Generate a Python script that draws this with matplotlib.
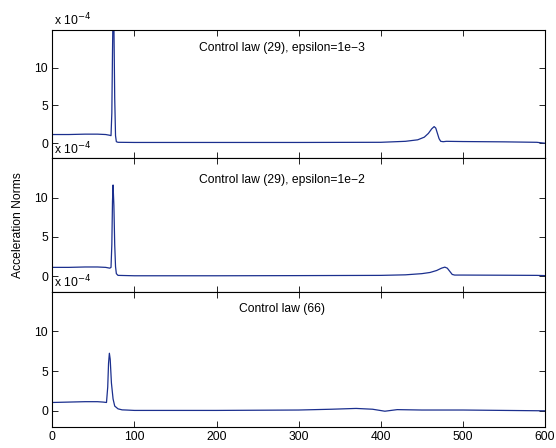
import matplotlib.pyplot as plt
import numpy as np

plt.rcParams['font.family'] = ['Liberation Sans', 'DejaVu Sans']

# time samples and acceleration norms (units of 1e-4)
t_top = [0, 20, 40, 55, 65, 70, 71.5, 72.5, 73.3, 74, 75, 76, 77, 78, 80, 100, 200,
         300, 400, 430, 445, 453, 458, 462, 465, 467, 469, 471, 473, 476, 480, 500,
         550, 590, 600]
a_top = [1.15, 1.15, 1.2, 1.2, 1.15, 1.05, 1.0, 4.0, 12.0, 18.0, 16.0, 6.0, 1.0, 0.2,
         0.12, 0.1, 0.1, 0.1, 0.12, 0.25, 0.45, 0.8, 1.3, 1.9, 2.2, 2.0, 1.3, 0.6, 0.25,
         0.2, 0.25, 0.22, 0.18, 0.12, 0.0]

t_mid = [0, 20, 40, 55, 65, 70, 71.5, 72.5, 73.3, 74, 75, 76, 77, 78, 80, 100, 200,
         300, 400, 430, 450, 460, 468, 474, 478, 481, 484, 487, 490, 500, 550, 590, 600]
a_mid = [1.1, 1.1, 1.15, 1.15, 1.1, 1.0, 1.1, 4.0, 9.5, 11.6, 9.0, 4.0, 1.2, 0.3,
         0.08, 0.03, 0.03, 0.05, 0.08, 0.15, 0.3, 0.45, 0.7, 1.0, 1.13, 1.0, 0.6, 0.2,
         0.12, 0.12, 0.1, 0.08, 0.05]

t_bot = [0, 20, 40, 55, 62, 66, 67.5, 68.5, 69.5, 70.5, 72, 74, 76, 80, 85, 90, 100,
         200, 300, 340, 370, 390, 405, 420, 450, 500, 550, 600]
a_bot = [1.05, 1.1, 1.15, 1.15, 1.1, 1.05, 3.0, 6.0, 7.25, 6.5, 3.5, 1.5, 0.6, 0.25,
         0.12, 0.1, 0.05, 0.05, 0.1, 0.2, 0.3, 0.2, -0.05, 0.15, 0.1, 0.1, 0.05, 0.0]

titles = ['Control law (29), epsilon=1e\u22123', 'Control law (29), epsilon=1e\u22122',
          'Control law (66)']
title_y = [12.6, 12.2, 12.8]
series = [(t_top, a_top), (t_mid, a_mid), (t_bot, a_bot)]

W, H = 556, 448
fig = plt.figure(figsize=(W / 100, H / 100), dpi=100)
bounds = [(30, 158.3), (158.3, 291.7), (291.7, 426.7)]
left, right = 52.3, 545
fs = 8.7

for i, ((top, bot), (t, a)) in enumerate(zip(bounds, series)):
    ax = fig.add_axes([left / W, 1 - bot / H, (right - left) / W, (bot - top) / H])
    ax.plot(t, np.array(a), color='#1b2f8e', lw=0.9)
    ax.set_xlim(0, 600)
    ax.set_ylim(-2, 15)
    ax.set_yticks([0, 5, 10])
    ax.set_xticks(range(0, 601, 100))
    ax.tick_params(direction='in', top=True, right=True, labelsize=fs, length=4,
                   width=0.6, pad=3)
    if i < 2:
        ax.tick_params(labelbottom=False)
    for s in ax.spines.values():
        s.set_linewidth(0.8)
    ax.text(280, title_y[i], titles[i], ha='center', va='center', fontsize=fs)
    ax.text(0.003, 1.01, 'x 10$^{-4}$', transform=ax.transAxes, ha='left', va='bottom',
            fontsize=fs)

fig.text(18 / W, 1 - 225 / H, 'Acceleration Norms', rotation=90, ha='center',
         va='center', fontsize=fs)

fig.savefig('out.png', dpi=100)
